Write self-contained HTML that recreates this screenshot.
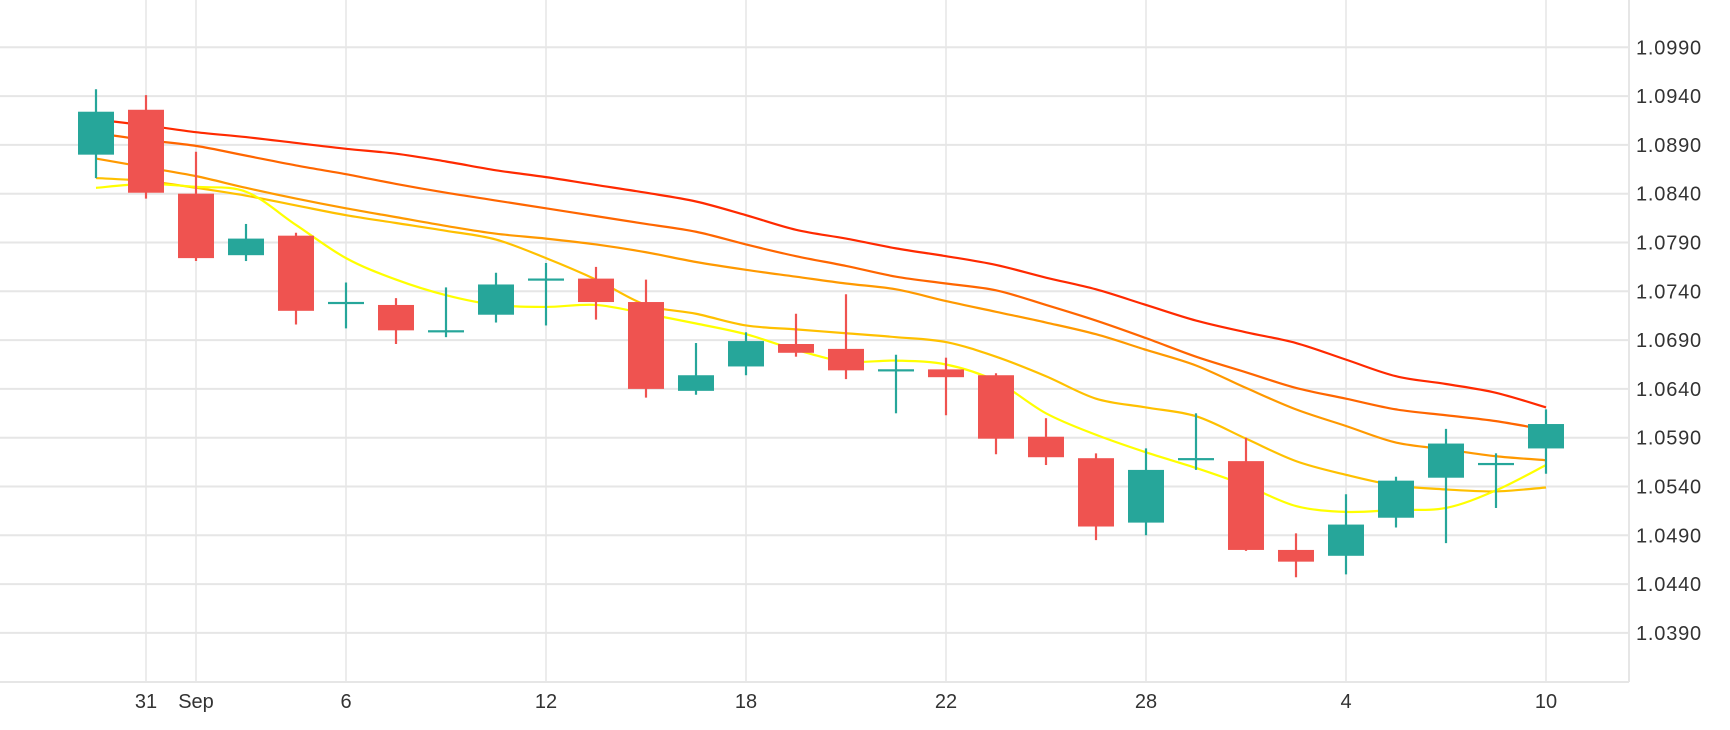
<!DOCTYPE html>
<html><head><meta charset="utf-8"><style>
html,body{margin:0;padding:0;background:#fff;}
svg{display:block;font-family:"Liberation Sans",sans-serif;}
</style></head><body>
<svg id="chart" width="1730" height="730" viewBox="0 0 1730 730">
<g id="grid"></g>
<g id="mas"></g>
<g id="candles"></g>
<g id="axes"></g>
</svg>
<script>
const slots = [-1,0,1,2,3,4,5,6,7,8,9,10,11,12,13,14,15,16,17,18,19,20,21,22,23,24,25,26,27,28];
const opens  = [1.0880,1.0926,1.0840,1.0777,1.0797,1.0728,1.0726,1.0698,1.0716,1.0751,1.0753,1.0729,1.0638,1.0663,1.0686,1.0681,1.0659,1.0660,1.0654,1.0591,1.0569,1.0503,1.0567,1.0566,1.0475,1.0469,1.0508,1.0549,1.0562,1.0579];
const highs  = [1.0947,1.0941,1.0883,1.0809,1.0800,1.0749,1.0733,1.0744,1.0759,1.0769,1.0765,1.0752,1.0687,1.0698,1.0717,1.0737,1.0675,1.0672,1.0656,1.0610,1.0574,1.0579,1.0615,1.0590,1.0492,1.0532,1.0550,1.0599,1.0574,1.0619];
const lows   = [1.0856,1.0835,1.0771,1.0771,1.0706,1.0702,1.0686,1.0693,1.0708,1.0705,1.0711,1.0631,1.0634,1.0654,1.0673,1.0650,1.0615,1.0613,1.0573,1.0562,1.0485,1.0490,1.0557,1.0474,1.0447,1.0450,1.0498,1.0482,1.0518,1.0553];
const closes = [1.0924,1.0841,1.0774,1.0794,1.0720,1.0728,1.0700,1.0699,1.0747,1.0752,1.0729,1.0640,1.0654,1.0689,1.0677,1.0659,1.0659,1.0652,1.0589,1.0570,1.0499,1.0557,1.0568,1.0475,1.0463,1.0501,1.0546,1.0584,1.0563,1.0604];
const maRed    = [1.0916,1.0910,1.0903,1.0898,1.0892,1.0886,1.0881,1.0873,1.0864,1.0857,1.0849,1.0841,1.0832,1.0818,1.0803,1.0794,1.0784,1.0776,1.0767,1.0754,1.0742,1.0726,1.0710,1.0698,1.0687,1.0670,1.0653,1.0645,1.0636,1.0621];
const maOrange = [1.0902,1.0895,1.0889,1.0879,1.0869,1.0860,1.0850,1.0841,1.0833,1.0825,1.0817,1.0809,1.0801,1.0788,1.0776,1.0766,1.0755,1.0748,1.0741,1.0726,1.0710,1.0692,1.0673,1.0657,1.0641,1.0630,1.0619,1.0613,1.0607,1.0598];
const maAmber  = [1.0876,1.0867,1.0858,1.0846,1.0835,1.0825,1.0816,1.0807,1.0799,1.0794,1.0788,1.0780,1.0770,1.0762,1.0755,1.0748,1.0742,1.0730,1.0719,1.0708,1.0696,1.0680,1.0664,1.0641,1.0619,1.0602,1.0585,1.0578,1.0571,1.0567];
const maGold   = [1.0856,1.0853,1.0846,1.0838,1.0828,1.0818,1.0810,1.0802,1.0793,1.0774,1.0752,1.0726,1.0717,1.0705,1.0701,1.0697,1.0693,1.0688,1.0673,1.0653,1.0630,1.0621,1.0612,1.0589,1.0566,1.0552,1.0541,1.0537,1.0535,1.0539];
const maYellow = [1.0846,1.0850,1.0847,1.0842,1.0808,1.0774,1.0752,1.0736,1.0726,1.0724,1.0726,1.0717,1.0707,1.0696,1.0680,1.0668,1.0669,1.0665,1.0648,1.0615,1.0593,1.0575,1.0559,1.0541,1.0520,1.0514,1.0516,1.0518,1.0536,1.0562];
const yTicks = [1.0990,1.0940,1.0890,1.0840,1.0790,1.0740,1.0690,1.0640,1.0590,1.0540,1.0490,1.0440,1.0390];
const xTickSlots = [0,1,4,8,12,16,20,24,28];
const xTickLabels = ["31","Sep","6","12","18","22","28","4","10"];

const NS="http://www.w3.org/2000/svg";
const plotRight=1629, plotBottom=682;
function x(s){return 146+s*50;}
function y(p){return 47.3+(1.0990-p)/0.005*48.8;}
function mk(tag,attrs,parent){const e=document.createElementNS(NS,tag);for(const k in attrs)e.setAttribute(k,attrs[k]);parent.appendChild(e);return e;}
const grid=document.getElementById('grid'),axes=document.getElementById('axes'),cg=document.getElementById('candles'),mg=document.getElementById('mas');

yTicks.forEach(t=>{
  const l=mk('line',{x1:0,x2:plotRight,y1:y(t),y2:y(t),stroke:'#e6e6e6','stroke-width':2},grid);
  
  
  const tx=mk('text',{x:1636,y:y(t)+7,'font-size':20,fill:'#333','letter-spacing':'0.8'},axes);
  tx.textContent=t.toFixed(4);
  
  
});
xTickSlots.forEach((s,i)=>{
  const l=mk('line',{x1:x(s),x2:x(s),y1:0,y2:plotBottom,stroke:'#e6e6e6','stroke-width':1.5},grid);
  
  
  const tx=mk('text',{x:x(s),y:708,'font-size':20,fill:'#333','text-anchor':'middle'},axes);
  tx.textContent=xTickLabels[i];
  
  
});
const bl=mk('line',{x1:0,x2:plotRight,y1:plotBottom,y2:plotBottom,stroke:'#e6e6e6','stroke-width':2},axes);


const rl=mk('line',{x1:plotRight,x2:plotRight,y1:0,y2:plotBottom,stroke:'#e6e6e6','stroke-width':2},axes);



[[maRed,'#ff2a00','ma-red'],[maOrange,'#ff6600','ma-orange'],[maAmber,'#ff9900','ma-amber'],[maGold,'#ffc000','ma-gold'],[maYellow,'#ffff00','ma-yellow']].forEach(([arr,c,n])=>{
  const pts=arr.map((v,i)=>[x(slots[i]),y(v)]);
  let d='M'+pts[0][0]+','+pts[0][1];
  for(let i=1;i<pts.length;i++){
    const p0=pts[Math.max(0,i-2)],p1=pts[i-1],p2=pts[i],p3=pts[Math.min(pts.length-1,i+1)];
    const c1x=p1[0]+(p2[0]-p0[0])/6,c1y=p1[1]+(p2[1]-p0[1])/6,c2x=p2[0]-(p3[0]-p1[0])/6,c2y=p2[1]-(p3[1]-p1[1])/6;
    d+=` C${c1x},${c1y} ${c2x},${c2y} ${p2[0]},${p2[1]}`;
  }
  const p=mk('path',{d:d,fill:'none',stroke:c,'stroke-width':2.2},mg);
  
  
});

opens.forEach((o,i)=>{
  const c=closes[i],cx=x(slots[i]);
  const col=c>=o?'#26a69a':'#ef5350';
  const g=mk('g',{},cg);
  
  
  mk('line',{x1:cx,x2:cx,y1:y(highs[i]),y2:y(lows[i]),stroke:col,'stroke-width':2.2},g);
  const top=y(Math.max(o,c)),h=Math.max(2.2,y(Math.min(o,c))-top);
  mk('rect',{x:cx-18,y:top-(h===2.2?1.1:0),width:36,height:h,fill:col},g);
});
</script>
</body></html>
